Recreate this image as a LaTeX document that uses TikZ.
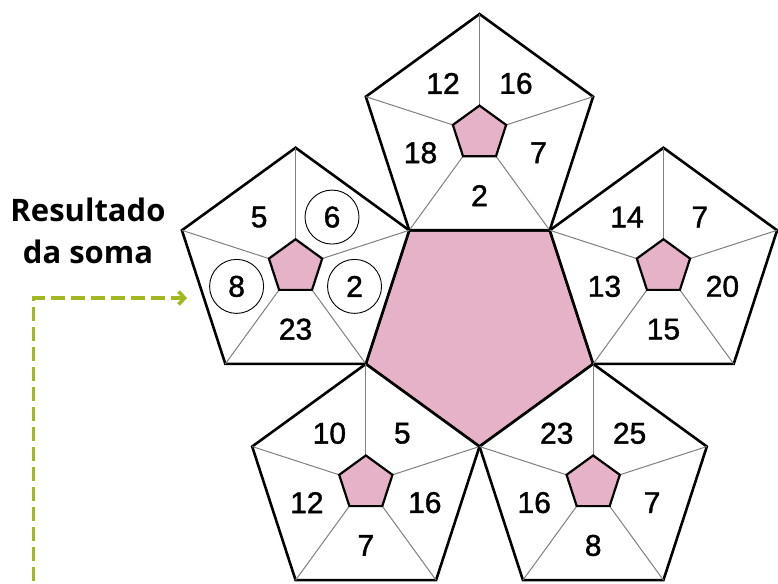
\documentclass[tikz,border=0pt]{standalone}
\usepackage{fontspec}
\setmainfont{Liberation Sans}
\newfontfamily\numfont{Liberation Sans}[FakeBold=1.3]
\newfontfamily\captionfont{Open Sans}
\usetikzlibrary{positioning,calc,arrows.meta}

\definecolor{rose}{RGB}{229,178,199}
\definecolor{olive}{RGB}{163,183,33}

\begin{document}
\begin{tikzpicture}[x=1pt, y=1pt,
    centre/.style={draw=black, line width=2.6pt, fill=rose},
    petal/.style={draw=black, line width=2.6pt, fill=white},
    spoke/.style={draw=black!50, line width=1pt},
    core/.style={draw=black, line width=2.2pt, fill=rose},
    num/.style={font=\numfont\fontsize{30}{30}\selectfont, inner sep=0pt},
    ring/.style={draw=black, line width=0.9pt, circle, minimum size=54pt, inner sep=0pt},
    hint/.style={draw=olive, line width=3.6pt, dash pattern=on 14pt off 6pt, -{Straight Barb[length=6pt, width=13pt]}},
    caption/.style={font=\captionfont\bfseries\fontsize{31}{42}\selectfont, align=center, inner sep=0pt}]
    \useasboundingbox (0,0) rectangle (778,583);

    % central pentagon
    \coordinate (ctr) at (479.5,256);
    \draw [centre] ($(ctr)+(270:119.5)$) \foreach \a in {342,54,126,198} {-- ($(ctr)+(\a:119.5)$)} -- cycle;

    % the five petals
    \foreach \name/\ang in {top/90, left/162, lowleft/234, lowright/306, right/18} {
        \coordinate (\name) at ($(ctr)+(\ang:193.4)$);
        \draw [petal] ($(\name)+(90:119.5)$) \foreach \a in {162,234,306,18} {-- ($(\name)+(\a:119.5)$)} -- cycle;
        \foreach \a in {90,162,234,306,18}
            \draw [spoke] ($(\name)+(\a:28)$) -- ($(\name)+(\a:119.5)$);
        \draw [core] ($(\name)+(90:28)$) \foreach \a in {162,234,306,18} {-- ($(\name)+(\a:28)$)} -- cycle;
    }

    % numbers
    \foreach \name/\a/\n in {top/54/16, top/126/12, top/198/18, top/270/2, top/342/7,
                             left/54/6, left/126/5, left/198/8, left/270/23, left/342/2,
                             lowleft/54/5, lowleft/126/10, lowleft/198/12, lowleft/270/7, lowleft/342/16,
                             lowright/54/25, lowright/126/23, lowright/198/16, lowright/270/8, lowright/342/7,
                             right/54/7, right/126/14, right/198/13, right/270/15, right/342/20}
        \node [num] (\name-\n) at ($(\name)+(\a:62)$) {\n};

    % circled sums
    \foreach \n in {6,8,2}
        \node [ring] (ring-\n) at (left-\n) {};

    % caption and pointer
    \node [caption] (result) at (88,352) {Resultado\\da soma};
    \coordinate (tail) at (33.5,2);
    \coordinate (tip) at (187,285);
    \draw [hint] (tail) |- (tip);
\end{tikzpicture}
\end{document}
